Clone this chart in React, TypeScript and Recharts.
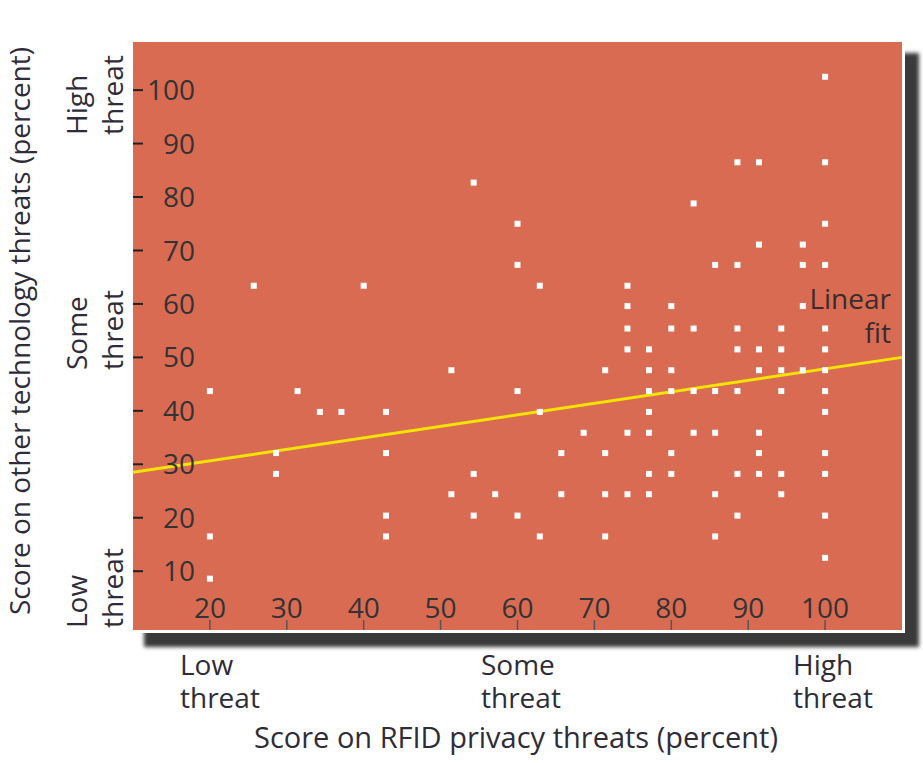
import React from 'react';
import { ScatterChart, Scatter, XAxis, YAxis, ReferenceLine } from 'recharts';

// rows of points: each y level and the x scores that sit on it
const yLevels = [102.5, 86.5, 82.7, 78.8, 75, 71.1, 67.3, 63.4, 59.6, 55.4, 51.5, 47.6, 43.7, 39.8, 35.9, 32.1, 28.2, 24.4, 20.4, 16.5, 12.5, 8.6];
const xByRow = [
  [100],
  [88.6, 91.4, 100],
  [54.3],
  [82.9],
  [60, 100],
  [91.4, 97.1],
  [60, 85.7, 88.6, 97.1, 100],
  [25.7, 40, 62.9, 74.3],
  [74.3, 80, 97.1],
  [74.3, 80, 82.9, 88.6, 94.3, 100],
  [74.3, 77.1, 88.6, 91.4, 94.3, 100],
  [51.4, 71.4, 77.1, 80, 91.4, 94.3, 97.1, 100],
  [20, 31.4, 60, 77.1, 80, 82.9, 85.7, 88.6, 94.3, 100],
  [34.3, 37.1, 42.9, 62.9, 77.1, 100],
  [68.6, 74.3, 77.1, 82.9, 85.7, 91.4],
  [28.6, 42.9, 65.7, 71.4, 80, 91.4, 100],
  [28.6, 54.3, 77.1, 80, 88.6, 91.4, 94.3, 100],
  [51.4, 57.1, 65.7, 71.4, 74.3, 77.1, 85.7, 94.3],
  [42.9, 54.3, 60, 88.6, 100],
  [20, 42.9, 62.9, 71.4, 85.7],
  [100],
  [20],
];

const fitX = [10, 110];
const fitY = [28.5, 50];

const xTicks = [20, 30, 40, 50, 60, 70, 80, 90, 100];
const yTicks = [10, 20, 30, 40, 50, 60, 70, 80, 90, 100];

const points = yLevels.flatMap((y, i) => xByRow[i].map((x) => ({ x, y })));

const FONT = '"Open Sans", sans-serif';
const INK = '#2e2c38';

const Square = (props: any) => (
  <rect x={props.cx - 3} y={props.cy - 3} width={6} height={6} fill="#ffffff" />
);

const YTick = (props: any) => (
  <text x={props.x} y={props.y} dy="0.36em" textAnchor="end" fill="#333" fontSize={28} fontFamily={FONT}>
    {props.payload.value}
  </text>
);

// two-line label, optionally rotated
const TwoLines = ({ x, y, lines, gap, rotate, anchor = 'start', fill = INK }: any) => (
  <g transform={`translate(${x},${y})${rotate ? ' rotate(-90)' : ''}`}>
    <text x={0} y={0} textAnchor={anchor} fill={fill} fontSize={28} fontFamily={FONT}>
      <tspan x={0} dy={0}>{lines[0]}</tspan>
      <tspan x={0} dy={gap}>{lines[1]}</tspan>
    </text>
  </g>
);

export default function App() {
  return (
    <div style={{ position: 'absolute', left: 0, top: 0, width: 923, height: 763, background: '#fff', overflow: 'hidden' }}>
      <div
        style={{
          position: 'absolute',
          left: 130,
          top: 39,
          width: 769,
          height: 588,
          border: '3px solid #fff',
          background: '#d96b53',
          boxShadow: '14px 14px 4px #3a3a3a',
        }}
      />
      <div style={{ position: 'absolute', left: 0, top: 0 }}>
        <ScatterChart width={923} height={763} margin={{ top: 42, right: 21, bottom: 133, left: 133 }}>
          <XAxis
            type="number"
            dataKey="x"
            domain={[10, 110]}
            ticks={xTicks}
            interval={0}
            mirror
            axisLine={false}
            tickSize={10}
            tickMargin={2}
            tickLine={{ stroke: '#555', strokeWidth: 1.5 }}
            tick={{ fill: '#333', fontSize: 28, fontFamily: FONT }}
          />
          <YAxis
            type="number"
            dataKey="y"
            domain={[-1, 109]}
            ticks={yTicks}
            interval={0}
            mirror
            axisLine={false}
            tickSize={10}
            tickMargin={52}
            tickLine={{ stroke: '#222', strokeWidth: 2 }}
            tick={<YTick />}
          />
          <Scatter data={points} shape={<Square />} isAnimationActive={false} />
          <ReferenceLine
            segment={[
              { x: fitX[0], y: fitY[0] },
              { x: fitX[1], y: fitY[1] },
            ]}
            stroke="#f3e300"
            strokeWidth={3}
          />
        </ScatterChart>
      </div>
      <svg width={923} height={763} style={{ position: 'absolute', left: 0, top: 0, pointerEvents: 'none' }}>
        <TwoLines x={891} y={309} lines={['Linear', 'fit']} gap={34} anchor="end" fill="#3a2c2c" />
        <g transform="translate(30,331) rotate(-90)">
          <text x={0} y={0} textAnchor="middle" fill={INK} fontSize={28} fontFamily={FONT}>
            Score on other technology threats (percent)
          </text>
        </g>
        <TwoLines x={87} y={135} lines={['High', 'threat']} gap={36} rotate />
        <TwoLines x={87} y={370} lines={['Some', 'threat']} gap={36} rotate />
        <TwoLines x={87} y={628} lines={['Low', 'threat']} gap={36} rotate />
        <TwoLines x={180} y={675} lines={['Low', 'threat']} gap={33} />
        <TwoLines x={481} y={675} lines={['Some', 'threat']} gap={33} />
        <TwoLines x={793} y={675} lines={['High', 'threat']} gap={33} />
        <text x={516} y={748} textAnchor="middle" fill={INK} fontSize={29} fontFamily={FONT}>
          Score on RFID privacy threats (percent)
        </text>
      </svg>
    </div>
  );
}
